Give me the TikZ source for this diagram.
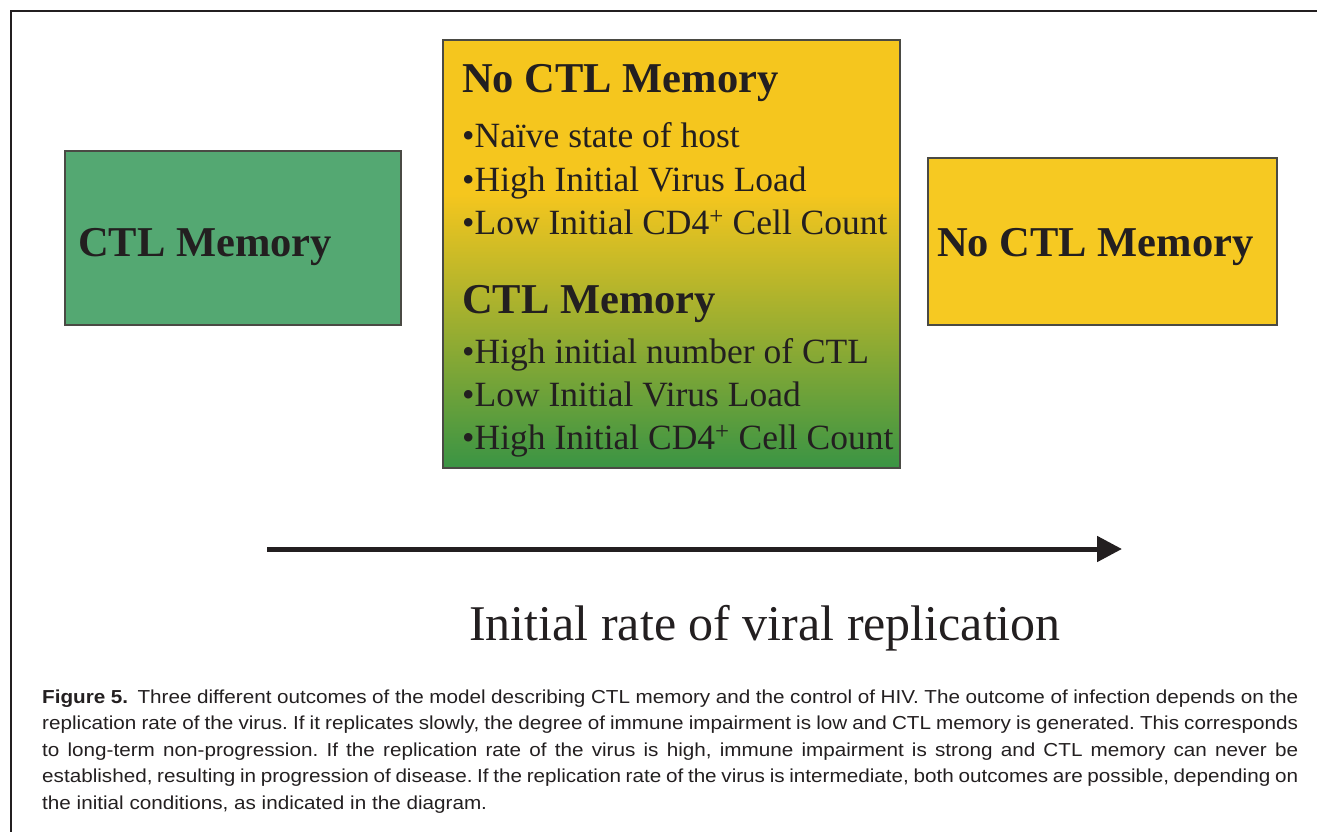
\documentclass[tikz,border=0pt]{standalone}
\usepackage{fontspec}
\setmainfont{Liberation Serif}
\newfontfamily\capfont[FakeStretch=1.10]{Liberation Sans}
\usetikzlibrary{arrows.meta}

\definecolor{inkdark}{HTML}{231F20}
\definecolor{boxgreen}{HTML}{54A872}
\definecolor{boxyellow}{HTML}{F6C922}
\definecolor{gradyellow}{HTML}{F5C61E}
\definecolor{gradgreen}{HTML}{3A9444}
\definecolor{edgegray}{HTML}{4A4A44}

% yellow at the top, fading into green towards the bottom
\pgfdeclareverticalshading{yellowgreen}{100bp}{%
  color(0bp)=(gradgreen); color(25bp)=(gradgreen);
  color(57bp)=(gradyellow); color(75bp)=(gradyellow);
  color(100bp)=(gradyellow)}

\begin{document}
\begin{tikzpicture}[x=1pt,y=-1pt,
    box/.style={draw=edgegray, line width=1.4pt},
    headtext/.style={anchor=base west, inner sep=0pt, text=inkdark,
      font=\fontsize{42.5}{46}\selectfont\bfseries},
    itemtext/.style={anchor=base west, inner sep=0pt, text=inkdark,
      font=\fontsize{35.5}{38}\selectfont},
    axistext/.style={anchor=base, inner sep=0pt, text=inkdark,
      font=\fontsize{50}{54}\selectfont},
    captext/.style={anchor=base west, inner sep=0pt, text=inkdark,
      font=\capfont\fontsize{18.8}{26.6}\selectfont}]
  \useasboundingbox (0,0) rectangle (1317,832);

  % frame lines
  \coordinate (frameTR) at (1317,10.8);
  \coordinate (frameTL) at (10.8,10.8);
  \coordinate (frameBL) at (10.8,832);
  \draw[line width=2.5pt, inkdark] (frameTR) -- (frameTL) -- (frameBL);

  % left outcome
  \path[box, fill=boxgreen] (65,151) rectangle (401,325);
  \node[headtext] (leftlbl) at (78,256) {CTL Memory};

  % intermediate outcome
  \path[box, shading=yellowgreen] (443,40) rectangle (900,468);
  \node[headtext] (midhead1) at (462,93) {No CTL Memory};
  \node[itemtext] (mid1a) at (462,148) {•Naïve state of host};
  \node[itemtext] (mid1b) at (462,191) {•High Initial Virus Load};
  \node[itemtext] (mid1c) at (462,234) {•Low Initial CD4\textsuperscript{+} Cell Count};
  \node[headtext] (midhead2) at (462,313) {CTL Memory};
  \node[itemtext] (mid2a) at (462,363) {•High initial number of CTL};
  \node[itemtext] (mid2b) at (462,406) {•Low Initial Virus Load};
  \node[itemtext] (mid2c) at (462,449) {•High Initial CD4\textsuperscript{+} Cell Count};

  % right outcome
  \path[box, fill=boxyellow] (928,158) rectangle (1277,325);
  \node[headtext] (rightlbl) at (937,256) {No CTL Memory};

  % replication-rate axis
  \coordinate (axisStart) at (267,549);
  \coordinate (axisEnd) at (1122,549);
  \draw[inkdark, line width=5pt,
        -{Triangle[length=25pt,width=25pt]}] (axisStart) -- (axisEnd);
  \node[axistext] (axislbl) at (765,640) {Initial rate of viral replication};

  % caption, justified, broken as typeset in the figure
  \node[captext] (caption) at (42,703) {\parbox[t]{1256pt}{%
    \frenchspacing\hyphenpenalty=10000\tolerance=9999\emergencystretch=40pt
    {\bfseries Figure 5.}\hspace{0.5em}Three different outcomes of the model describing CTL memory and the control of HIV. The outcome of infection depends on the\linebreak
    replication rate of the virus. If it replicates slowly, the degree of immune impairment is low and CTL memory is generated. This corresponds\linebreak
    to long-term non-progression. If the replication rate of the virus is high, immune impairment is strong and CTL memory can never be\linebreak
    established, resulting in progression of disease. If the replication rate of the virus is intermediate, both outcomes are possible, depending on\linebreak
    the initial conditions, as indicated in the diagram.}};
\end{tikzpicture}
\end{document}
